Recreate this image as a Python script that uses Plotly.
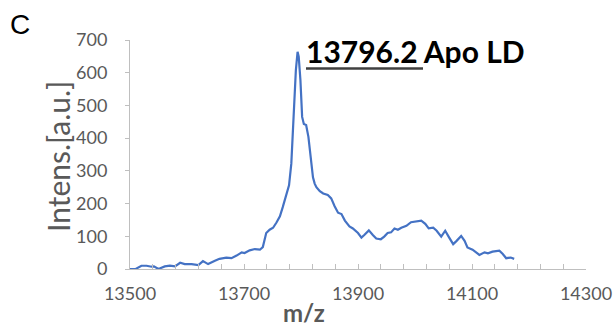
import plotly.graph_objects as go

mz = [13500, 13510, 13520, 13529, 13538, 13542, 13550, 13561, 13570, 13579, 13588, 13596,
      13608, 13620, 13628, 13637, 13649, 13657, 13669, 13678, 13687, 13696, 13701, 13710,
      13719, 13728, 13733, 13739, 13745, 13751, 13757, 13763, 13768, 13774, 13779, 13783,
      13787, 13791, 13794, 13796, 13799, 13802, 13805, 13809, 13813, 13818, 13821, 13824,
      13827, 13833, 13839, 13847, 13853, 13859, 13865, 13871, 13877, 13885, 13891, 13900,
      13906, 13911, 13919, 13926, 13932, 13940, 13946, 13952, 13958, 13964, 13970, 13976,
      13985, 13993, 14002, 14011, 14018, 14024, 14032, 14038, 14046, 14053, 14060, 14067,
      14073, 14081, 14087, 14092, 14101, 14107, 14113, 14122, 14128, 14136, 14148, 14154,
      14160, 14168, 14174]
intens = [0, 0, 10, 10, 7, 8, 0, 8, 10, 8, 19, 15,
          15, 12, 24, 15, 25, 31, 35, 33, 41, 51, 49, 57,
          61, 59, 67, 110, 120, 126, 142, 161, 189, 228, 256, 322,
          475, 608, 664, 649, 577, 465, 443, 440, 404, 322, 280, 261,
          250, 238, 231, 226, 216, 192, 172, 168, 148, 130, 124, 110,
          96, 104, 118, 104, 93, 91, 99, 110, 112, 124, 120, 126,
          132, 143, 145, 148, 138, 124, 126, 117, 99, 117, 96, 76,
          86, 101, 86, 66, 59, 51, 43, 51, 48, 53, 56, 46,
          33, 35, 31]

x_ticks = [13500, 13700, 13900, 14100, 14300]
y_ticks = [0, 100, 200, 300, 400, 500, 600, 700]
peak_label = "13796.2"
peak_name = " Apo LD"

W, H = 613, 326
L, R, T, B = 130, 27, 40, 57
pw, ph = W - L - R, H - T - B

def px(xp):
    return (xp - L) / pw

def py(yp):
    return (H - B - yp) / ph

gray = "#595959"
axis_col = "#BFBFBF"

fig = go.Figure()
fig.add_trace(go.Scatter(x=mz, y=intens, mode="lines",
                         line=dict(color="#4472C4", width=2.2), showlegend=False))

fig.update_layout(
    width=W, height=H,
    margin=dict(l=L, r=R, t=T, b=B, autoexpand=False),
    paper_bgcolor="white", plot_bgcolor="white",
    font=dict(family="Lato", color=gray),
)
fig.update_xaxes(
    range=[13500, 14300], tickvals=x_ticks, ticktext=[str(v) for v in x_ticks],
    automargin=False,
    showgrid=False, zeroline=False, showline=True, linecolor=axis_col, linewidth=1,
    ticks="inside", ticklen=5, tickcolor=axis_col,
    minor=dict(dtick=40, tick0=13500, ticks="inside", ticklen=5, tickcolor=axis_col, showgrid=False),
    tickfont=dict(family="Lato", size=18, color=gray), ticklabelstandoff=8,
)
fig.update_yaxes(
    range=[0, 700], tickvals=y_ticks, automargin=False,
    showgrid=False, zeroline=False, showline=True, linecolor=axis_col, linewidth=1,
    ticks="outside", ticklen=4, tickcolor=axis_col,
    tickfont=dict(family="Lato", size=18, color=gray), ticklabelstandoff=14,
)

fig.add_annotation(text="C", xref="paper", yref="paper", x=px(20), y=py(25),
                   showarrow=False, font=dict(family="Liberation Sans", size=28, color="black"),
                   xanchor="center", yanchor="middle")
fig.add_annotation(text="Intens.[a.u.]", xref="paper", yref="paper", x=px(58), y=py(157),
                   showarrow=False, textangle=-90, font=dict(family="Lato", size=30, color=gray),
                   xanchor="center", yanchor="middle")
fig.add_annotation(text="<b>m/z</b>", xref="paper", yref="paper", x=px(304), y=py(312),
                   showarrow=False, font=dict(family="Lato", size=24, color=gray),
                   xanchor="center", yanchor="middle")
fig.add_annotation(text="<b>" + peak_label + peak_name + "</b>", xref="paper", yref="paper",
                   x=px(304), y=py(51), showarrow=False,
                   font=dict(family="Lato", size=30, color="black"),
                   xanchor="left", yanchor="middle")
fig.add_shape(type="line", xref="paper", yref="paper", x0=px(306), x1=px(423),
              y0=py(68.5), y1=py(68.5), line=dict(color="#404040", width=2.5))

fig.write_html("out.html", config={"displayModeBar": False},
               post_script="document.body.style.margin='0px';document.body.style.overflow='hidden';")
